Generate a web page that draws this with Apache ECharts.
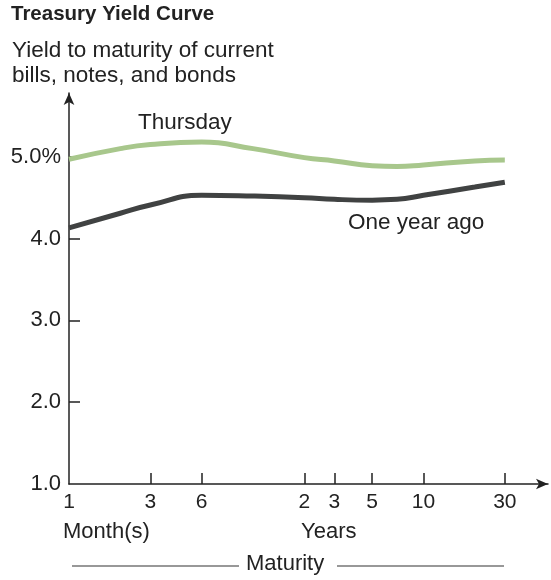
<!DOCTYPE html>
<html>
<head>
<meta charset="utf-8">
<script src="https://cdn.jsdelivr.net/npm/echarts@6/dist/echarts.min.js"></script>
<style>
html,body{margin:0;padding:0;background:#fff;}
#chart{width:551px;height:580px;}
</style>
</head>
<body>
<div id="chart"></div>
<script>
// Maturities in months (curve sample points)
var maturities = [1, 2, 3, 6, 12, 24, 36, 60, 84, 120, 240, 360];
var thursday   = [4.97, 5.10, 5.15, 5.18, 5.10, 4.99, 4.95, 4.89, 4.88, 4.90, 4.95, 4.96];
var oneYearAgo = [4.13, 4.31, 4.41, 4.53, 4.52, 4.50, 4.48, 4.47, 4.48, 4.53, 4.63, 4.69];
// Tick marks on the maturity axis and their labels
var xTicks = [1, 3, 6, 24, 36, 60, 120, 360];
var xTickLabels = ['1', '3', '6', '2', '3', '5', '10', '30'];
var yTicks = [1, 2, 3, 4, 5];
var yTickLabels = ['1.0', '2.0', '3.0', '4.0', '5.0%'];

var FONT = '"Liberation Sans", Arial, Helvetica, sans-serif';

function pairs(xs, ys) {
  return xs.map(function (x, i) { return [x, ys[i]]; });
}

var chart = echarts.init(document.getElementById('chart'), null, {renderer: 'canvas'});
chart.setOption({
  backgroundColor: '#fff',
  animation: false,
  grid: {left: 69, right: 3, top: 93, bottom: 96},
  xAxis: {
    type: 'log',
    logBase: 10,
    min: 1,
    max: 645,
    splitLine: {show: false},
    axisLine: {show: true, symbol: ['none', 'arrow'], symbolSize: [8, 12], lineStyle: {color: '#222', width: 1.5}},
    axisTick: {show: true, inside: true, length: 11, customValues: xTicks.slice(1), lineStyle: {color: '#222', width: 1.5}},
    axisLabel: {
      show: true,
      customValues: xTicks,
      margin: 8,
      color: '#222',
      fontFamily: FONT,
      fontSize: 21,
      formatter: function (v) {
        var i = xTicks.indexOf(Math.round(v));
        return i >= 0 ? xTickLabels[i] : '';
      }
    }
  },
  yAxis: {
    type: 'value',
    min: 1,
    max: 5.78,
    interval: 1,
    splitLine: {show: false},
    axisLine: {show: true, symbol: ['none', 'arrow'], symbolSize: [8, 12], lineStyle: {color: '#222', width: 1.5}},
    axisTick: {show: true, inside: true, length: 11, customValues: yTicks.slice(1), lineStyle: {color: '#222', width: 1.5}},
    axisLabel: {
      show: true,
      customValues: yTicks,
      margin: 8,
      color: '#222',
      fontFamily: FONT,
      fontSize: 22,
      formatter: function (v) {
        var i = yTicks.indexOf(Math.round(v * 10) / 10);
        return i >= 0 ? yTickLabels[i] : '';
      }
    }
  },
  series: [
    {
      name: 'Thursday',
      type: 'line',
      smooth: 0.5,
      symbol: 'none',
      data: pairs(maturities, thursday),
      lineStyle: {color: '#a8c78c', width: 5}
    },
    {
      name: 'One year ago',
      type: 'line',
      smooth: 0.5,
      symbol: 'none',
      data: pairs(maturities, oneYearAgo),
      lineStyle: {color: '#404242', width: 5}
    }
  ],
  graphic: [
    {type: 'text', left: 11, top: 4, style: {text: 'Treasury Yield Curve', font: 'bold 20.5px ' + FONT, fill: '#222'}},
    {type: 'text', left: 12, top: 38, style: {text: 'Yield to maturity of current\nbills, notes, and bonds', font: '22.5px ' + FONT, lineHeight: 25, fill: '#222'}},
    {type: 'text', left: 138, top: 111, style: {text: 'Thursday', font: '22.5px ' + FONT, fill: '#222'}},
    {type: 'text', left: 348, top: 211, style: {text: 'One year ago', font: '22.5px ' + FONT, fill: '#222'}},
    {type: 'text', left: 63, top: 521, style: {text: 'Month(s)', font: '22px ' + FONT, fill: '#222'}},
    {type: 'text', left: 301, top: 521, style: {text: 'Years', font: '22px ' + FONT, fill: '#222'}},
    {type: 'text', left: 246, top: 553, style: {text: 'Maturity', font: '22px ' + FONT, fill: '#222'}},
    {type: 'line', shape: {x1: 72, y1: 566, x2: 239, y2: 566}, style: {stroke: '#333', lineWidth: 1.2}},
    {type: 'line', shape: {x1: 337, y1: 566, x2: 504, y2: 566}, style: {stroke: '#333', lineWidth: 1.2}}
  ]
});
</script>
</body>
</html>
